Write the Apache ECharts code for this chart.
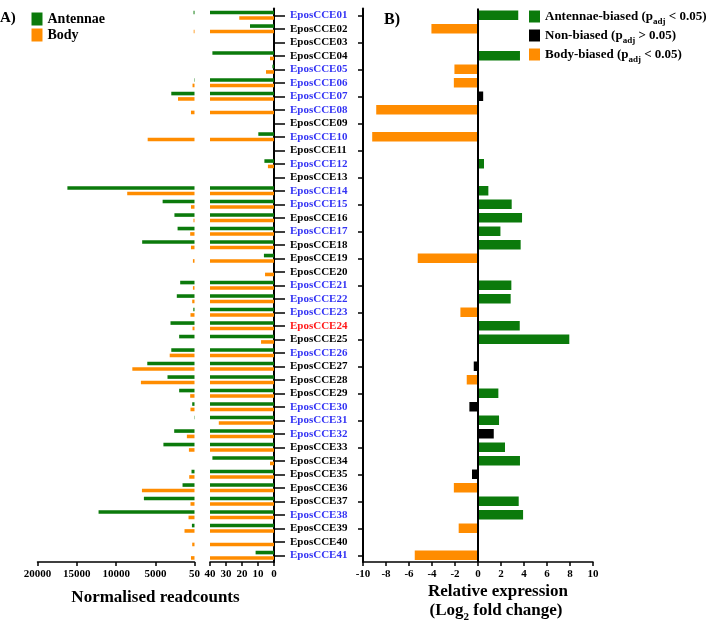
<!DOCTYPE html>
<html><head><meta charset="utf-8">
<script src="https://cdn.jsdelivr.net/npm/echarts@6/dist/echarts.min.js"></script>
<style>html,body{margin:0;padding:0;background:#fff}#c{width:714px;height:626px}</style>
</head><body><div id="c"></div>
<script>
const categories = ['EposCCE01','EposCCE02','EposCCE03','EposCCE04','EposCCE05','EposCCE06','EposCCE07','EposCCE08','EposCCE09','EposCCE10',
  'EposCCE11','EposCCE12','EposCCE13','EposCCE14','EposCCE15','EposCCE16','EposCCE17','EposCCE18','EposCCE19','EposCCE20',
  'EposCCE21','EposCCE22','EposCCE23','EposCCE24','EposCCE25','EposCCE26','EposCCE27','EposCCE28','EposCCE29','EposCCE30',
  'EposCCE31','EposCCE32','EposCCE33','EposCCE34','EposCCE35','EposCCE36','EposCCE37','EposCCE38','EposCCE39','EposCCE40','EposCCE41'];

// Normalised readcounts (panel A)
const antennaeCounts = [170, 15, 0, 38.5, 1, 100, 3000, 0, 0, 9.8,
  0, 6, 0, 16200, 4100, 2600, 2200, 6700, 6.3, 0,
  1870, 2300, 200, 3100, 2000, 3000, 6050, 3480, 2000, 340,
  90, 2630, 4000, 38.5, 430, 1570, 6480, 12240, 380, 0, 11.5];
const bodyCounts = [21.7, 150, 0, 2.5, 5, 300, 2150, 500, 0, 6000,
  0, 3.8, 0, 8600, 500, 180, 600, 500, 250, 5.6,
  250, 340, 560, 300, 8.1, 3200, 7950, 6860, 600, 560,
  34.5, 1020, 760, 2.5, 720, 6730, 560, 810, 1320, 340, 500];

// Relative expression, log2 fold change (panel B)
const log2FoldChange = [3.5, -4.05, null, 3.65, -2.05, -2.1, 0.45, -8.85, null, -9.2,
  null, 0.52, null, 0.9, 2.93, 3.83, 1.95, 3.71, -5.24, null,
  2.9, 2.84, -1.53, 3.63, 7.94, -0.08, -0.37, -0.98, 1.77, -0.75,
  1.83, 1.37, 2.35, 3.65, -0.52, -2.1, 3.54, 3.92, -1.68, null, -5.5];
// A = antennae-biased, N = non-biased, B = body-biased
const biasClass = ['A','B','','A','B','B','N','B','','B',
  '','A','','A','A','A','A','A','B','',
  'A','A','B','A','A','N','N','B','A','N',
  'A','N','A','A','N','B','A','A','B','','B'];

const blueLabels = ['EposCCE01','EposCCE05','EposCCE06','EposCCE07','EposCCE08','EposCCE10','EposCCE12','EposCCE14','EposCCE15',
  'EposCCE17','EposCCE21','EposCCE22','EposCCE23','EposCCE26','EposCCE30','EposCCE31','EposCCE32','EposCCE38','EposCCE41'];
const redLabels = ['EposCCE24'];

const leftTicks = [50, 5000, 10000, 15000, 20000];
const legendA = ['Antennae', 'Body'];
const legendB = ['Antennae-biased', 'Non-biased', 'Body-biased'];
const legendBCond = {'Antennae-biased': '< 0.05', 'Non-biased': '> 0.05', 'Body-biased': '< 0.05'};

const FONT = "'Liberation Serif','Times New Roman',serif";
const GREEN = '#0b7a0b', ORANGE = '#ff8c00', BLACK = '#000000';
const BLUE = '#3434f4', RED = '#ff1a1a';

const leftPart = arr => arr.map(v => v > 50 ? v : null);
const rightPart = arr => arr.map(v => v > 0 ? Math.min(v, 40) : null);
const biasPart = cls => log2FoldChange.map((v, i) => biasClass[i] === cls ? v : null);

const TOP = 8.5, H = 553.5;
const axisText = {fontFamily: FONT, fontWeight: 'bold', fontSize: 11, color: '#000', formatter: v => String(v)};
const xLine = {show: true, onZero: false, lineStyle: {color: '#000', width: 1.5}};
const xTick = {show: true, length: 4, lineStyle: {color: '#000', width: 1.5}};

const chart = echarts.init(document.getElementById('c'));
const option = {
  animation: false,
  backgroundColor: '#fff',
  grid: [
    {left: 37.5, width: 157, top: TOP, height: H},
    {left: 210, width: 64, top: TOP, height: H},
    {left: 363, width: 230, top: TOP, height: H}
  ],
  xAxis: [
    {gridIndex: 0, type: 'value', inverse: true, min: 50, max: 20000, splitLine: {show: false},
     axisLine: xLine, axisTick: Object.assign({customValues: leftTicks}, xTick),
     axisLabel: Object.assign({customValues: leftTicks, margin: 7}, axisText)},
    {gridIndex: 1, type: 'value', inverse: true, min: 0, max: 40, interval: 10, splitLine: {show: false},
     axisLine: xLine, axisTick: xTick, axisLabel: Object.assign({margin: 7, showMinLabel: true, showMaxLabel: true}, axisText)},
    {gridIndex: 2, type: 'value', min: -10, max: 10, interval: 2, splitLine: {show: false},
     axisLine: xLine, axisTick: xTick, axisLabel: Object.assign({margin: 7, showMinLabel: true, showMaxLabel: true}, axisText)}
  ],
  yAxis: [
    {gridIndex: 0, type: 'category', inverse: true, data: categories, show: false},
    {gridIndex: 1, type: 'category', inverse: true, data: categories, position: 'right',
     axisLine: {show: true, onZero: false, lineStyle: {color: '#000', width: 2}},
     axisTick: {show: true, alignWithLabel: true, length: 11, lineStyle: {color: '#000', width: 1.5}},
     axisLabel: {show: true, interval: 0, margin: 16, fontFamily: FONT, fontWeight: 'bold', fontSize: 11,
       color: v => redLabels.includes(v) ? RED : (blueLabels.includes(v) ? BLUE : '#000')}},
    {gridIndex: 2, type: 'category', inverse: true, data: categories, position: 'left',
     axisLine: {show: true, onZero: false, lineStyle: {color: '#000', width: 2}},
     axisTick: {show: true, alignWithLabel: true, length: 5, lineStyle: {color: '#000', width: 1.5}},
     axisLabel: {show: false}}
  ],
  legend: [
    {data: legendA, orient: 'vertical', left: 31.5, top: 12, padding: 0, itemWidth: 11, itemHeight: 13, itemGap: 2,
     icon: 'rect', selectedMode: false,
     textStyle: {fontFamily: FONT, fontWeight: 'bold', fontSize: 14, color: '#000'}},
    {data: legendB, orient: 'vertical', left: 529, top: 10, padding: 0, itemWidth: 11, itemHeight: 12, itemGap: 3,
     icon: 'rect', selectedMode: false,
     formatter: n => n + ' (p{sub|adj} ' + legendBCond[n] + ')',
     textStyle: {fontFamily: FONT, fontWeight: 'bold', fontSize: 13, color: '#000',
       rich: {sub: {fontFamily: FONT, fontWeight: 'bold', fontSize: 9, color: '#000', verticalAlign: 'bottom', lineHeight: 19}}}}
  ],
  series: [
    {name: 'Antennae', type: 'bar', xAxisIndex: 0, yAxisIndex: 0, data: leftPart(antennaeCounts),
     barWidth: 3.6, barGap: '50%', itemStyle: {color: GREEN}},
    {name: 'Body', type: 'bar', xAxisIndex: 0, yAxisIndex: 0, data: leftPart(bodyCounts),
     barWidth: 3.6, barGap: '50%', itemStyle: {color: ORANGE}},
    {name: 'Antennae', type: 'bar', xAxisIndex: 1, yAxisIndex: 1, data: rightPart(antennaeCounts),
     barWidth: 3.6, barGap: '50%', itemStyle: {color: GREEN}},
    {name: 'Body', type: 'bar', xAxisIndex: 1, yAxisIndex: 1, data: rightPart(bodyCounts),
     barWidth: 3.6, barGap: '50%', itemStyle: {color: ORANGE}},
    {name: 'Antennae-biased', type: 'bar', xAxisIndex: 2, yAxisIndex: 2, stack: 'fc', data: biasPart('A'),
     barWidth: 9.5, itemStyle: {color: GREEN},
     markLine: {silent: true, symbol: 'none', label: {show: false}, lineStyle: {color: '#000', width: 2, type: 'solid'},
       data: [{xAxis: 0}]}},
    {name: 'Non-biased', type: 'bar', xAxisIndex: 2, yAxisIndex: 2, stack: 'fc', data: biasPart('N'),
     barWidth: 9.5, itemStyle: {color: BLACK}},
    {name: 'Body-biased', type: 'bar', xAxisIndex: 2, yAxisIndex: 2, stack: 'fc', data: biasPart('B'),
     barWidth: 9.5, itemStyle: {color: ORANGE}}
  ],
  graphic: [
    {type: 'text', x: 0, y: 18, style: {text: 'A)', font: "bold 15px 'Liberation Serif'", fill: '#000', verticalAlign: 'middle'}},
    {type: 'text', x: 384, y: 19.5, style: {text: 'B)', font: "bold 16px 'Liberation Serif'", fill: '#000', verticalAlign: 'middle'}},
    {type: 'text', x: 155.5, y: 598, style: {text: 'Normalised readcounts', font: "bold 17px 'Liberation Serif'", fill: '#000', align: 'center', verticalAlign: 'middle'}},
    {type: 'text', x: 498, y: 591.5, style: {text: 'Relative expression', font: "bold 17px 'Liberation Serif'", fill: '#000', align: 'center', verticalAlign: 'middle'}},
    {type: 'text', x: 496, y: 611, style: {text: '(Log{sub|2} fold change)', font: "bold 17px 'Liberation Serif'", fill: '#000', align: 'center', verticalAlign: 'middle',
      rich: {sub: {font: "bold 11px 'Liberation Serif'", fill: '#000', verticalAlign: 'bottom', lineHeight: 23}}}}
  ]
};
chart.setOption(option);
</script></body></html>
